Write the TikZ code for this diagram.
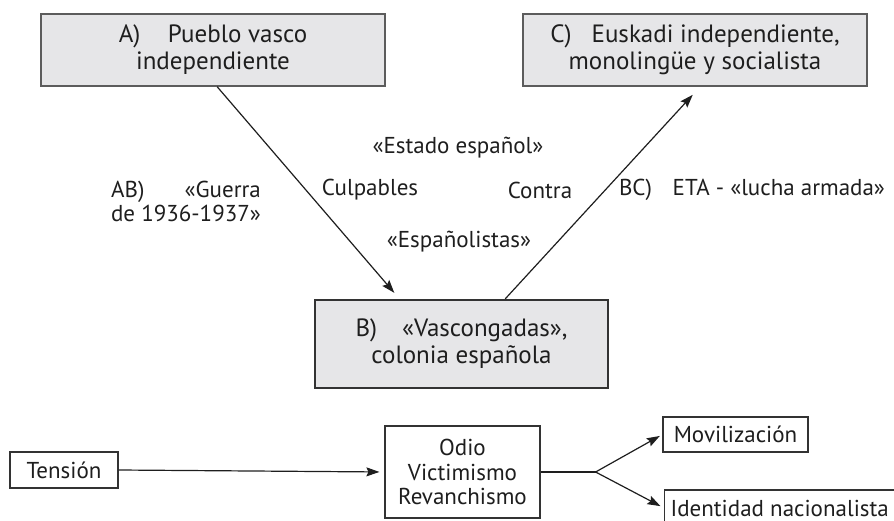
\documentclass[tikz,border=0pt]{standalone}
\usepackage{fontspec}
\setmainfont{PT Sans}
\usetikzlibrary{arrows.meta,calc}
\definecolor{boxfill}{HTML}{E6E6E8}
\definecolor{txt}{HTML}{1E1E1E}
\definecolor{edge}{HTML}{5C5C5C}
\definecolor{edgedark}{HTML}{333333}
\newlength\abwidth
\begin{document}
\begin{tikzpicture}[x=1pt,y=-1pt,
  every node/.style={font=\fontsize{23}{27}\selectfont, text=txt, inner sep=0pt},
  bigtext/.style={font=\fontsize{25}{27}\selectfont},
  topbox/.style={bigtext, draw=edge, line width=1.4pt, fill=boxfill, align=center,
    minimum width=344pt, minimum height=72pt},
  midbox/.style={bigtext, draw=edgedark, line width=2.2pt, fill=boxfill, align=center,
    minimum width=293pt, minimum height=88pt},
  lowbox/.style={draw=edgedark, line width=1.2pt, fill=white, align=center},
  lbl/.style={align=center},
  conn/.style={draw=txt, line width=1.2pt},
  arr/.style={conn, -{Stealth[length=13pt,width=9pt,inset=2pt]}}
]
\useasboundingbox (0,0) rectangle (894,521);

% main boxes
\node[topbox] (A) at (213,50) {A)\hspace{1.1em}Pueblo vasco\\independiente};
\node[topbox] (C) at (695,50) {C)\hspace{0.8em}Euskadi independiente,\\monolingüe y socialista};
\node[midbox] (B) at (461.5,344) {B)\hspace{1.0em}«Vascongadas»,\\colonia española};

% connectors
\draw[arr, shorten >=8pt] ($(A.south west)!0.512!(A.south east)$) -- ($(B.north west)!0.29!(B.north east)$);
\draw[arr, shorten >=11pt] ($(B.north west)!0.648!(B.north east)$) -- ($(C.south west)!0.515!(C.south east)$);

% labels
\node[lbl] (estado) at (458,148) {«Estado español»};
\node[align=left, font=\fontsize{23}{24}\selectfont] (ab) at (186,201)
  {\settowidth{\abwidth}{de 1936-1937»}\makebox[\abwidth][s]{AB)\hfill«Guerra}\\de 1936-1937»};
\node[lbl] (culp) at (370,190) {Culpables};
\node[lbl] (contra) at (540,190) {Contra};
\node[lbl] (bc) at (752,190) {BC)\hspace{0.9em}ETA - «lucha armada»};
\node[lbl] (espa) at (459,242) {«Españolistas»};

% lower chain
\node[lowbox, minimum width=108pt, minimum height=36pt] (ten) at (64,470) {Tensión};
\node[lowbox, minimum width=155pt, minimum height=92pt, font=\fontsize{23}{24.5}\selectfont] (odio) at (462.5,472) {Odio\\Victimismo\\Revanchismo};
\node[lowbox, minimum width=145pt, minimum height=35pt] (mov) at (735.5,434.5) {Movilización};
\node[lowbox, anchor=west, minimum height=36pt, inner xsep=6pt] (ident) at (664,508) {Identidad nacionalista};

\coordinate (br) at ($(odio.east)+(55,0)$);
\draw[arr, shorten >=5pt] (ten.east) -- (odio.west);
\draw[conn] (odio.east) -- (br);
\draw[arr, shorten >=3pt] (br) -- (mov.west);
\draw[arr, shorten >=4pt] (br) -- (ident.west);
\end{tikzpicture}
\end{document}
